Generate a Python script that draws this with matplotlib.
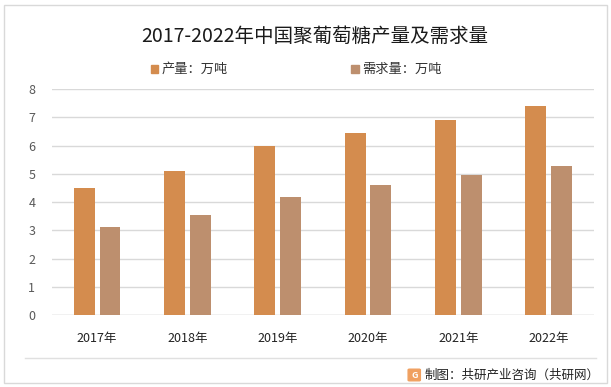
import matplotlib.pyplot as plt
import numpy as np
from matplotlib.patches import Rectangle, FancyBboxPatch
from matplotlib.lines import Line2D

plt.rcParams['font.family'] = ['Noto Sans CJK SC', 'DejaVu Sans']

years = ['2017年', '2018年', '2019年', '2020年', '2021年', '2022年']
production = [4.5, 5.1, 5.97, 6.43, 6.9, 7.41]
demand = [3.12, 3.54, 4.19, 4.61, 4.94, 5.26]
series_names = ['产量：万吨', '需求量：万吨']
colors = ['#D48C4E', '#BD8F6E']

fig = plt.figure(figsize=(6.11, 3.87), dpi=100)

# outer frame
fig.patches.append(Rectangle((0.006, 0.01), 0.988, 0.977, transform=fig.transFigure,
                             fill=False, edgecolor='#D9D9D9', linewidth=1.0))

ax = fig.add_axes([0.0851, 0.186, 0.8869, 0.584])
x = np.arange(len(years))
w = 0.232
ax.bar(x - 0.144, production, w, color=colors[0], label=series_names[0], zorder=3)
ax.bar(x + 0.142, demand, w, color=colors[1], label=series_names[1], zorder=3)

ax.set_xlim(-0.5, len(years) - 0.5)
ax.set_ylim(0, 8)
ax.set_yticks(range(0, 9))
ax.yaxis.grid(True, color='#D9D9D9', linewidth=1.0, zorder=0)
for s in ax.spines.values():
    s.set_visible(False)
ax.tick_params(axis='both', length=0)
ax.tick_params(axis='y', colors='#595959', labelsize=9, pad=12)
ax.set_xticks(x)
ax.set_xticklabels(years, fontsize=9, color='#222222')
ax.tick_params(axis='x', pad=12)
ax.axhline(0, color='#D9D9D9', linewidth=1.0, zorder=2)

fig.text(0.515, 0.905, '2017-2022年中国聚葡萄糖产量及需求量', ha='center', va='center',
         fontsize=14, color='#1a1a1a', fontweight='light')

# legend
for i, (name, xpos) in enumerate(zip(series_names, [0.247, 0.575])):
    fig.patches.append(Rectangle((xpos, 0.812), 0.012, 0.019, transform=fig.transFigure,
                                 color=colors[i]))
    fig.text(xpos + 0.018, 0.821, name, ha='left', va='center', fontsize=9.5, color='#333333')

# separator line and source
fig.lines.append(Line2D([0.041, 0.975], [0.075, 0.075], transform=fig.transFigure,
                        color='#E0E0E0', linewidth=1.0))
fig.patches.append(FancyBboxPatch((0.670, 0.018), 0.016, 0.026, transform=fig.transFigure,
                                  boxstyle='round,pad=0.002', color='#F0A060'))
fig.text(0.678, 0.031, 'G', ha='center', va='center', fontsize=6.5, color='white',
         fontweight='bold')
fig.text(0.981, 0.031, '制图：共研产业咨询（共研网）', ha='right', va='center',
         fontsize=9, color='#222222')

fig.savefig('out.png', dpi=100)
